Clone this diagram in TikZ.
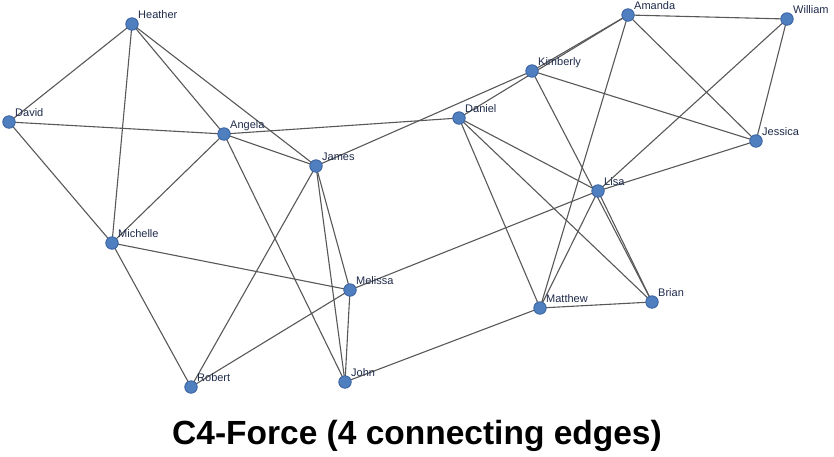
\documentclass[tikz,border=0pt]{standalone}
\usepackage{fontspec}
\setmainfont{Liberation Sans}
\usetikzlibrary{calc}
\definecolor{nodefill}{HTML}{4F7FBE}
\definecolor{nodeedge}{HTML}{3A62A0}
\definecolor{edgecol}{HTML}{585858}
\definecolor{labcol}{HTML}{1E2A4A}
\tikzset{
  person/.style={circle,fill=nodefill,draw=nodeedge,line width=0.8pt,minimum size=12.5pt,inner sep=0pt},
  plabel/.style={anchor=base west,text=labcol,font=\fontsize{11}{12}\selectfont,inner sep=0pt},
  link/.style={draw=edgecol,line width=1.1pt}
}
\begin{document}
\begin{tikzpicture}[x=1pt,y=-1pt]
\useasboundingbox (0,0) rectangle (834,456);
% nodes
\foreach \n/\px/\py in {Heather/132/24, David/9/122, Angela/224/134, James/316/166,
  Michelle/112/243, Melissa/350/290, Robert/191/387, John/345/382,
  Daniel/459/118, Kimberly/532/71, Amanda/628/15, William/787/19,
  Jessica/756/141, Lisa/598/191, Matthew/540/308, Brian/652/302}
  {\coordinate (\n) at (\px,\py);}
% edges
\begin{scope}[link]
\foreach \a/\b in {Heather/David, Heather/Michelle, Heather/Angela, Heather/James,
  David/Angela, David/Michelle, Angela/Daniel, Angela/James, Angela/Michelle, Angela/John,
  James/Kimberly, James/Robert, James/Melissa, James/John,
  Michelle/Melissa, Michelle/Robert, Melissa/Robert, Melissa/John, Melissa/Lisa,
  John/Matthew, Daniel/Lisa, Daniel/Matthew, Daniel/Brian, Daniel/Amanda,
  Kimberly/Amanda, Kimberly/Jessica, Kimberly/Brian,
  Amanda/William, Amanda/Jessica, Amanda/Matthew,
  William/Jessica, William/Lisa, Jessica/Lisa,
  Lisa/Matthew, Lisa/Brian, Matthew/Brian}
  {\draw (\a) -- (\b);}
\end{scope}
\foreach \n in {Heather, David, Angela, James, Michelle, Melissa, Robert, John,
  Daniel, Kimberly, Amanda, William, Jessica, Lisa, Matthew, Brian}
  {\node[person] (n\n) at (\n) {};
   \node[plabel] (l\n) at ($(\n)+(6,-6)$) {\n};}
\node[anchor=base,font=\bfseries\fontsize{33.5}{36}\selectfont,inner sep=0pt] (title) at (417,444) {C4-Force (4 connecting edges)};
\end{tikzpicture}
\end{document}
